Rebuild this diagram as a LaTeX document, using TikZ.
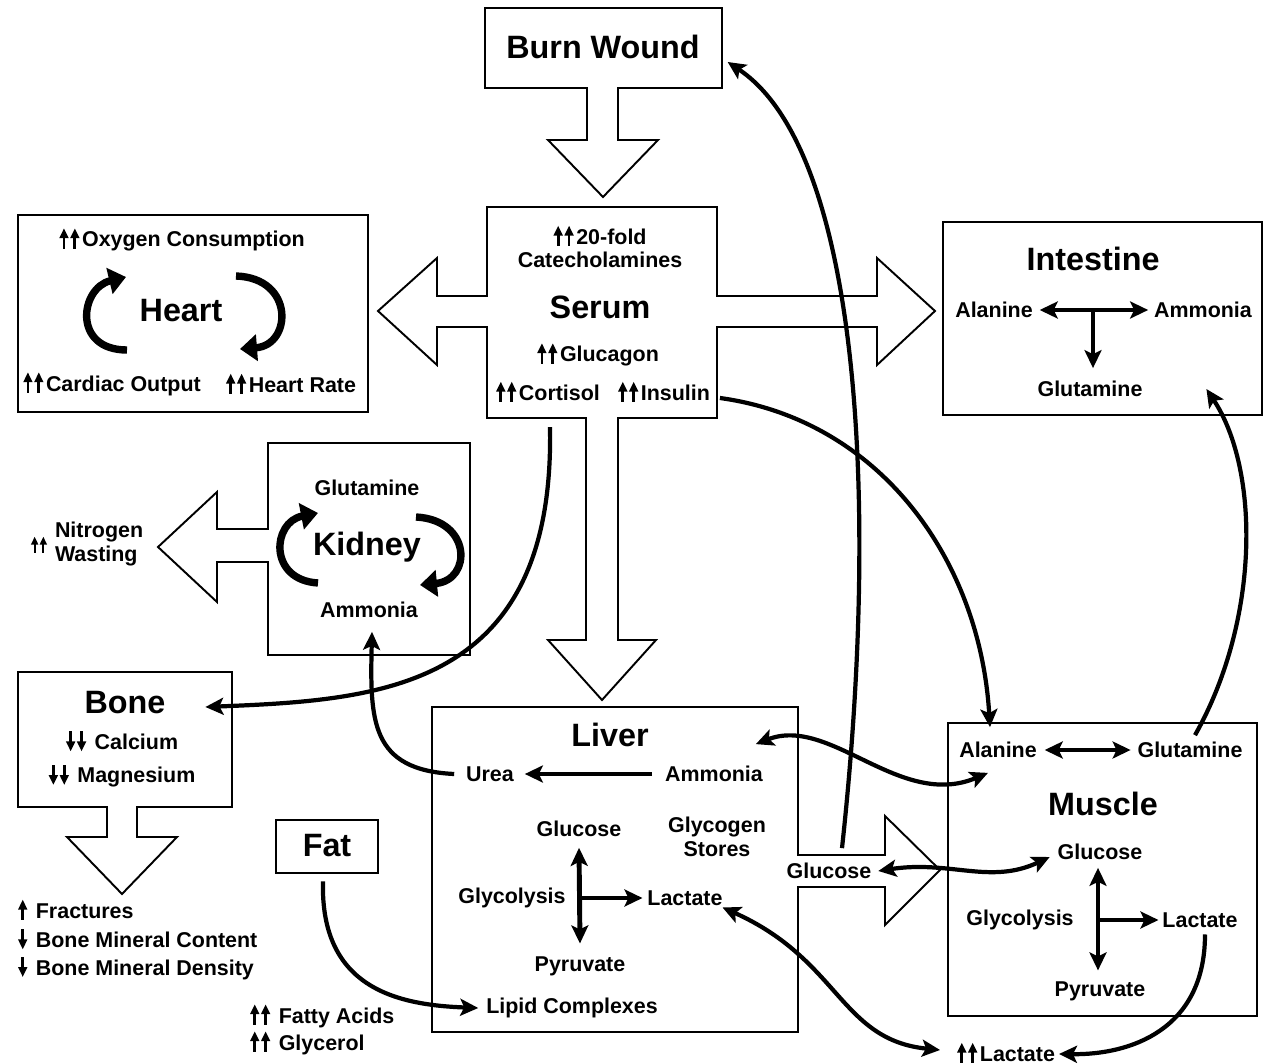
\documentclass[tikz,border=0pt]{standalone}
\usepackage{fontspec}
\setmainfont{Liberation Sans}
\usetikzlibrary{arrows.meta}
\newcommand{\arUp}{\tikz[baseline=0pt, x=1pt, y=1pt]{\fill (-0.8,-1) rectangle (0.8,6); \fill (-2.7,5) -- (0,10.5) -- (2.7,5) -- cycle;}}
\newcommand{\arDn}{\tikz[baseline=0pt, x=1pt, y=1pt]{\fill (-0.8,3.5) rectangle (0.8,10.5); \fill (-2.7,4.5) -- (0,-1) -- (2.7,4.5) -- cycle;}}
\newcommand{\arUU}{\arUp\hspace{0.8pt}\arUp\hspace{1.4pt}}
\newcommand{\arDD}{\arDn\hspace{0.8pt}\arDn\hspace{1.4pt}}
\tikzset{
  txt/.style={font=\fontsize{12.2}{14}\selectfont\bfseries, inner sep=0pt, outer sep=0pt},
  big/.style={font=\fontsize{18.4}{22}\selectfont\bfseries, inner sep=0pt, outer sep=0pt},
  outline/.style={draw, line width=1.1pt},
  flow/.style={line width=2.4pt},
  bar/.style={line width=2.8pt},
  curl/.style={line width=4.2pt, -{Triangle[length=3.4mm,width=5.2mm]}}
}
\begin{document}
\begin{tikzpicture}[x=0.02cm, y=-0.02cm, >={Stealth[length=3.6mm,width=3.4mm,inset=0.8mm]}]
            \useasboundingbox (0,0) rectangle (1268,1064);
            \foreach\a/\b/\c/\d in {18/215/368/412, 943/222/1262/415, 948/723/1257/1016, 276/820/378/873}
                {\draw[outline] (\a,\b) rectangle (\c,\d);};
            \draw[outline] (485,8) -- (722,8) -- (722,88) -- (618,88) -- (618,140) -- (658,140)
                -- (603,197) -- (548,140) -- (587,140) -- (587,88) -- (485,88) -- cycle;
            \draw[outline] (487,207) -- (717,207) -- (717,296) -- (877,296) -- (877,258) -- (935,311)
                -- (877,365) -- (877,327) -- (717,327) -- (717,418) -- (618,418) -- (618,640)
                -- (656,640) -- (602,700) -- (548,640) -- (586,640) -- (586,418) -- (487,418)
                -- (487,327) -- (437,327) -- (437,365) -- (378,311) -- (437,258) -- (437,296)
                -- (487,296) -- cycle;
            \draw[outline] (268,443) -- (470,443) -- (470,655) -- (268,655) -- (268,562) -- (217,562)
                -- (217,602) -- (158,547) -- (217,492) -- (217,529) -- (268,529) -- cycle;
            \draw[outline] (18,672) -- (232,672) -- (232,807) -- (137,807) -- (137,837) -- (177,837)
                -- (122,894) -- (67,837) -- (107,837) -- (107,807) -- (18,807) -- cycle;
            \draw[outline] (798,855) -- (798,707) -- (432,707) -- (432,1032) -- (798,1032) -- (798,887)
                -- (885,887) -- (885,925) -- (940,870) -- (885,816) -- (885,855) -- cycle;

            \node[big] (burn) at (603,47) {Burn Wound};
            \node[txt] (fold) at (600,236) {\arUU20-fold};
            \node[txt] (cate) at (600,260) {Catecholamines};
            \node[big] (serum) at (600,307) {Serum};
            \node[txt] (glucagon) at (598,355) {\arUU Glucagon};
            \node[txt] (cortisol) at (548,392) {\arUU Cortisol};
            \node[txt] (insulin) at (664,392) {\arUU Insulin};

            \node[txt] (oxygen) at (182,240) {\arUU Oxygen Consumption};
            \node[big] (heart) at (181,311) {Heart};
            \node[txt] (cardiac) at (112,384) {\arUU Cardiac Output};
            \node[txt] (rate) at (291,384) {\arUU Heart Rate};

            \node[txt] (kGln) at (367,488) {Glutamine};
            \node[big] (kidney) at (367,547) {Kidney};
            \node[txt] (kNH3) at (369,610) {Ammonia};
            \node[txt, scale=0.8] (nUp) at (39,545) {\arUp\hspace{0.8pt}\arUp};
            \node[txt, align=left, anchor=west] (nitro) at (55,544) {Nitrogen\\Wasting};

            \node[big] (bone) at (125,703) {Bone};
            \node[txt] (calcium) at (122,741) {\arDD\ Calcium};
            \node[txt] (magnesium) at (122,776) {\arDD\ Magnesium};
            \node[txt, anchor=west] (fract) at (18,910) {\arUp\hspace{1.4pt} Fractures};
            \node[txt, anchor=west] (bmc) at (18,939) {\arDn\hspace{1.4pt} Bone Mineral Content};
            \node[txt, anchor=west] (bmd) at (18,968) {\arDn\hspace{1.4pt} Bone Mineral Density};

            \node[big] (fat) at (327,846) {Fat};
            \node[txt, anchor=west] (fatty) at (250,1016) {\arUU\ Fatty Acids};
            \node[txt, anchor=west] (glycerol) at (250,1043) {\arUU\ Glycerol};

            \node[big] (liver) at (610,735) {Liver};
            \node[txt] (urea) at (490,774) {Urea};
            \node[txt] (lNH3) at (714,774) {Ammonia};
            \node[txt] (lGlc) at (579,829) {Glucose};
            \node[txt, align=center] (glycogen) at (717,837) {Glycogen\\Stores};
            \node[txt] (lGlyco) at (512,898) {Glycolysis};
            \node[txt] (lLac) at (685,898) {Lactate};
            \node[txt] (lPyr) at (580,966) {Pyruvate};
            \node[txt] (lipid) at (572,1008) {Lipid Complexes};
            \node[txt] (sGlc) at (829,871) {Glucose};

            \node[big] (intestine) at (1093,259) {Intestine};
            \node[txt] (iAla) at (994,310) {Alanine};
            \node[txt] (iNH3) at (1203,310) {Ammonia};
            \node[txt] (iGln) at (1090,389) {Glutamine};

            \node[txt] (mAla) at (998,750) {Alanine};
            \node[txt] (mGln) at (1190,750) {Glutamine};
            \node[big] (muscle) at (1103,804) {Muscle};
            \node[txt] (mGlc) at (1100,852) {Glucose};
            \node[txt] (mGlyco) at (1020,920) {Glycolysis};
            \node[txt] (mLac) at (1200,920) {Lactate};
            \node[txt] (mPyr) at (1100,991) {Pyruvate};
            \node[txt] (lacOut) at (1006,1053) {\arUU Lactate};

            \draw[curl] (127,350) .. controls (72,350) and (80,288) .. (126,277);
            \draw[curl] (236,276) .. controls (295,278) and (292,345) .. (240,349);
            \draw[curl] (318,583) .. controls (268,580) and (272,522) .. (318,513);
            \draw[curl] (416,517) .. controls (472,520) and (472,580) .. (420,585);

            \draw[bar, ->] ([shift={(-13,0)}]lNH3.west) -- ([shift={(11,0)}]urea.east);
            \draw[bar, <->] ([shift={(0,11)}]lGlc.south) -- ([shift={(0,-13)}]lPyr.north);
            \draw[bar, ->] (lGlc.south |- lLac) -- ([shift={(-5,0)}]lLac.west);
            \draw[bar, <->] ([shift={(-2,8)}]mGlc.south) -- ([shift={(-2,-11)}]mPyr.north);
            \draw[bar, ->] ([shift={(-2,0)}]mGlc.south |- mLac) -- ([shift={(-4,0)}]mLac.west);
            \draw[bar, <->] ([shift={(8,0)}]mAla.east) -- ([shift={(-7,0)}]mGln.west);
            \draw[bar, <->] ([shift={(7,0)}]iAla.east) -- ([shift={(-6,0)}]iNH3.west);
            \draw[bar, ->] ([shift={(3,0)}]iGln.north |- iAla) -- ([shift={(3,-13)}]iGln.north);

            \draw[flow, ->] ([shift={(13,-15)}]sGlc.north) .. controls (880,500) and (860,150) .. ([shift={(28,15)}]burn.east);
            \draw[flow, ->] ([shift={(10,6)}]insulin.east) .. controls (880,420) and (980,560) .. ([shift={(-8,-15)}]mAla.north);
            \draw[flow, ->] ([shift={(2,25)}]cortisol.south) .. controls (555,690) and (380,700) .. ([shift={(40,4)}]bone.east);
            \draw[flow, ->] ([shift={(-12,0)}]urea.west) .. controls (370,770) and (370,720) .. ([shift={(3,14)}]kNH3.south);
            \draw[flow, ->] ([shift={(-4,24)}]fat.south) .. controls (320,990) and (400,1005) .. ([shift={(-8,0)}]lipid.west);
            \draw[flow, <->] ([shift={(0,2)}]lLac.south east) .. controls (840,960) and (840,1040) .. ([shift={(-17,-3)}]lacOut.west);
            \draw[flow, ->] ([shift={(5,7)}]mLac.south) .. controls (1205,1030) and (1130,1055) .. ([shift={(4,1)}]lacOut.east);
            \draw[flow, ->] ([shift={(5,-7)}]mGln.north) .. controls (1260,620) and (1260,470) .. ([shift={(64,0)}]iGln.east);
            \draw[flow, <->] ([shift={(-7,-22)}]lNH3.north east) .. controls (830,715) and (900,810) .. ([shift={(-10,15)}]mAla.south);
            \draw[flow, <->] ([shift={(7,0)}]sGlc.east) .. controls (950,860) and (990,885) .. ([shift={(-8,5)}]mGlc.west);
        \end{tikzpicture}
\end{document}
